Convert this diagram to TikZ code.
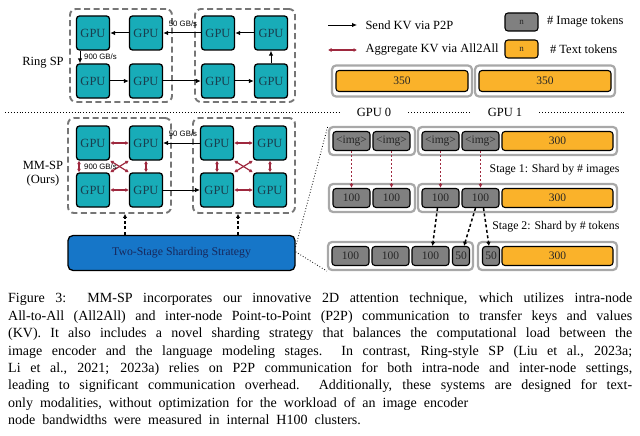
\documentclass[tikz,border=0pt]{standalone}
\usepackage{fontspec}
\setmainfont{Liberation Serif}
\newfontfamily\bwfont{Liberation Sans}
\usepackage{tikz}
\usetikzlibrary{arrows.meta, positioning}
\definecolor{gputeal}{RGB}{24,172,184}
\definecolor{gputext}{RGB}{25,62,78}
\definecolor{aggred}{RGB}{158,40,62}
\definecolor{tokgray}{RGB}{128,128,128}
\definecolor{tokorange}{RGB}{250,178,42}
\definecolor{stratblue}{RGB}{22,118,200}
\definecolor{stratnavy}{RGB}{22,40,92}
\definecolor{traygray}{RGB}{168,168,168}
\definecolor{hostgray}{RGB}{118,118,118}

\begin{document}
\begin{tikzpicture}[x=1pt, y=-1pt,
    gpu/.style={draw=black, line width=1.3pt, fill=gputeal, rounded corners=3pt,
      minimum width=33pt, minimum height=34pt, inner sep=0pt, text=gputext,
      font=\fontsize{12.5}{13}\selectfont},
    hostbox/.style={draw=hostgray, line width=1.9pt, dash pattern=on 6pt off 3.5pt,
      rounded corners=6pt, inner sep=0pt},
    tray/.style={draw=traygray, line width=2.2pt, rounded corners=4pt, fill=white,
      minimum height=28pt, inner sep=0pt},
    tok/.style={draw=black, line width=1.1pt, rounded corners=3pt, inner sep=0pt,
      minimum height=19pt, text=black!85, font=\fontsize{11.5}{11.5}\selectfont},
    imgtok/.style={tok, fill=tokgray, minimum width=37pt},
    txttok/.style={tok, fill=tokorange},
    p2p/.style={line width=1pt, -{Latex[length=5pt, width=4.5pt]}},
    agg/.style={aggred, line width=1.2pt, {Latex[length=3.5pt, width=4pt]}-{Latex[length=3.5pt, width=4pt]}},
    rate/.style={font=\bwfont\fontsize{7.8}{8}\selectfont, inner sep=1pt},
    side/.style={font=\fontsize{12.5}{14}\selectfont, align=center},
    moveimg/.style={aggred, line width=1pt, dash pattern=on 2pt off 2pt, -{Latex[length=4pt, width=4pt]}},
    movetok/.style={line width=1.5pt, dash pattern=on 3pt off 2.5pt, -{Latex[length=4pt, width=4.5pt]}},
    zoomline/.style={line width=0.8pt, dotted},
    sepline/.style={line width=0.9pt, dotted}]
  \useasboundingbox (0,0) rectangle (640,436);

  % Ring SP
  \node[side] (ringlbl) at (43,63) {Ring SP};
  \node[hostbox, minimum width=102pt, minimum height=93pt] (rleft) at (121,55.5) {};
  \node[hostbox, minimum width=100pt, minimum height=93pt] (rright) at (245,55.5) {};
  \node[gpu] (r1) at (93,33) {GPU};
  \node[gpu] (r2) at (146,33) {GPU};
  \node[gpu] (r3) at (218,33) {GPU};
  \node[gpu] (r4) at (271,33) {GPU};
  \node[gpu] (r5) at (93,81) {GPU};
  \node[gpu] (r6) at (146,81) {GPU};
  \node[gpu] (r7) at (218,81) {GPU};
  \node[gpu] (r8) at (271,81) {GPU};
  \draw[p2p] (r2) -- (r1);
  \draw[p2p] (r3) -- (r2);
  \draw[p2p] (r4) -- (r3);
  \draw[p2p] ([xshift=-13pt]r1.south) -- ([xshift=-13pt]r5.north);
  \draw[p2p] (r5) -- (r6);
  \draw[p2p] (r6) -- (r7);
  \draw[p2p] (r7) -- (r8);
  \draw[p2p] (r8) -- (r4);
  \node[rate] (rfast) at (183,24) {50 GB/s};
  \node[rate, anchor=west] (rslow) at (83,57) {900 GB/s};

  % separator with GPU labels
  \node[side, inner xsep=17pt] (lblgpu0) at (374,112) {GPU 0};
  \node[side, inner xsep=17pt] (lblgpu1) at (505,112) {GPU 1};
  \draw[sepline] (5,112) -- (lblgpu0) -- (lblgpu1) -- (626,112);

  % MM-SP
  \node[side] (mmlbl) at (43,174) {MM-SP\\(Ours)};
  \node[hostbox, minimum width=103pt, minimum height=95pt] (mleft) at (119.5,165.5) {};
  \node[hostbox, minimum width=102pt, minimum height=95pt] (mright) at (244,165.5) {};
  \node[gpu] (m1) at (93,143) {GPU};
  \node[gpu] (m2) at (146,143) {GPU};
  \node[gpu] (m3) at (217,143) {GPU};
  \node[gpu] (m4) at (270,143) {GPU};
  \node[gpu] (m5) at (93,190) {GPU};
  \node[gpu] (m6) at (146,190) {GPU};
  \node[gpu] (m7) at (217,190) {GPU};
  \node[gpu] (m8) at (270,190) {GPU};
  \draw[agg] (m1) -- (m2);
  \draw[agg] (m5) -- (m6);
  \draw[agg] ([xshift=-14pt]m1.south) -- ([xshift=-14pt]m5.north);
  \draw[agg] (m2) -- (m6);
  \draw[agg] (m1.south east) -- (m6.north west);
  \draw[agg] (m2.south west) -- (m5.north east);
  \draw[agg] (m3) -- (m4);
  \draw[agg] (m7) -- (m8);
  \draw[agg] (m3) -- (m7);
  \draw[agg] (m4) -- (m8);
  \draw[agg] (m3.south east) -- (m8.north west);
  \draw[agg] (m4.south west) -- (m7.north east);
  \draw[p2p, line width=0.7pt] (m3) -- (m2);
  \draw[p2p, line width=0.7pt] (m6) -- (m7);
  \node[rate] (mfast) at (183,134) {50 GB/s};
  \node[rate, anchor=west] (mslow) at (83,167) {900 GB/s};

  % sharding strategy
  \node[draw=black, line width=1.3pt, fill=stratblue, rounded corners=5pt,
    minimum width=227pt, minimum height=35pt, text=stratnavy,
    font=\fontsize{11.8}{12}\selectfont] (strat) at (181.5,253) {Two-Stage Sharding Strategy};
  \draw[movetok] ([xshift=5.5pt]strat.north -| mleft.south) -- ([xshift=5.5pt]mleft.south);
  \draw[movetok] ([xshift=-6pt]strat.north -| mright.south) -- ([xshift=-6pt]mright.south);

  % legend
  \coordinate (sendA) at (328,25);
  \coordinate (sendB) at (357,25);
  \coordinate (aggA) at (328,50);
  \coordinate (aggB) at (357,50);
  \draw[p2p, line width=0.9pt] (sendA) -- (sendB);
  \draw[agg] (aggA) -- (aggB);
  \node[side, anchor=west, right=5pt of sendB] (sendtxt) {Send KV via P2P};
  \node[side, anchor=west, right=5pt of aggB] (aggtxt) {Aggregate KV via All2All};
  \node[tok, fill=tokgray, minimum width=33pt, minimum height=18pt,
    font=\fontsize{9}{9}\selectfont] (keyimg) at (521.5,22) {n};
  \node[tok, fill=tokorange, minimum width=33pt, minimum height=18pt,
    font=\fontsize{9}{9}\selectfont] (keytxt) at (521.5,49) {n};
  \node[side, right=5pt of keyimg] (keyimgtxt) {\# Image tokens};
  \node[side, right=8pt of keytxt] (keytxttxt) {\# Text tokens};

  % ring sequence
  \node[tray, minimum width=140pt, minimum height=31pt] (ringa) at (402,81) {};
  \node[tray, minimum width=140pt, minimum height=31pt] (ringb) at (545,81) {};
  \node[txttok, minimum width=132pt, minimum height=21pt] (seqa) at (402,81) {350};
  \node[txttok, minimum width=132pt, minimum height=21pt] (seqb) at (545,81) {350};

  % input row
  \node[tray, minimum width=86pt] (g0a) at (372,141) {};
  \node[tray, minimum width=199pt] (g1a) at (517.5,141) {};
  \node[imgtok] (ia) at (351.5,141) {<img>};
  \node[imgtok] (ib) at (391.5,141) {<img>};
  \node[imgtok] (ic) at (440.5,141) {<img>};
  \node[imgtok] (id) at (480.5,141) {<img>};
  \node[txttok, minimum width=111pt] (ta) at (557.5,141) {300};

  % stage 1
  \node[anchor=east, font=\fontsize{11.8}{12}\selectfont] (stageone) at (623,170) {Stage 1: Shard by \# images};
  \node[tray, minimum width=86pt] (g0b) at (372,198) {};
  \node[tray, minimum width=199pt] (g1b) at (517.5,198) {};
  \node[imgtok] (ha) at (351.5,198) {100};
  \node[imgtok] (hb) at (391.5,198) {100};
  \node[imgtok] (hc) at (440.5,198) {100};
  \node[imgtok] (hd) at (480.5,198) {100};
  \node[txttok, minimum width=111pt] (tb) at (557.5,198) {300};
  \draw[moveimg] (ia) -- (ha);
  \draw[moveimg] (ib) -- (hb);
  \draw[moveimg] (ic) -- (hc);
  \draw[moveimg] (id) -- (hd);

  % stage 2
  \node[anchor=east, font=\fontsize{11.8}{12}\selectfont] (stagetwo) at (623,227) {Stage 2: Shard by \# tokens};
  \node[tray, minimum width=145pt] (g0c) at (400.5,256) {};
  \node[tray, minimum width=139pt] (g1c) at (547.5,256) {};
  \node[imgtok] (la) at (350.5,256) {100};
  \node[imgtok] (lb) at (390.5,256) {100};
  \node[imgtok] (lc) at (430.5,256) {100};
  \node[imgtok, minimum width=17pt] (ld) at (461,256) {50};
  \node[imgtok, minimum width=17pt] (le) at (491,256) {50};
  \node[txttok, minimum width=111pt] (tc) at (557.5,256) {300};
  \draw[movetok] ([xshift=-3pt]hc.south) -- ([xshift=2pt]lc.north);
  \draw[movetok] ([xshift=-5pt]hd.south) -- ([xshift=3pt]ld.north);
  \draw[movetok] ([xshift=3pt]hd.south) -- ([xshift=-2pt]le.north);

  % zoom lines
  \draw[zoomline] ([yshift=-12pt]strat.north east) -- (g0a.north west);
  \draw[zoomline] ([yshift=-17pt]strat.north east) -- (g0c.south west);

  % caption
  \node[anchor=north west, text width=624pt, align=justify, inner sep=0pt,
    font=\fontsize{14}{17.4}\selectfont] (caption) at (8,293) {%
    \spaceskip=0.5em plus 0.4em minus 0.1em
    Figure 3:\ \ MM-SP incorporates our innovative 2D attention technique, which utilizes intra-node\linebreak
    All-to-All (All2All) and inter-node Point-to-Point (P2P) communication to transfer keys and values\linebreak
    (KV). It also includes a novel sharding strategy that balances the computational load between the\linebreak
    image encoder and the language modeling stages.\ \ In contrast, Ring-style SP (Liu et al., 2023a;\linebreak
    Li et al., 2021; 2023a) relies on P2P communication for both intra-node and inter-node settings,\linebreak
    leading to significant communication overhead.\ \ Additionally, these systems are designed for text-\linebreak
    only modalities, without optimization for the workload of an image encoder\newline
    node bandwidths were measured in internal H100 clusters.};
\end{tikzpicture}
\end{document}
